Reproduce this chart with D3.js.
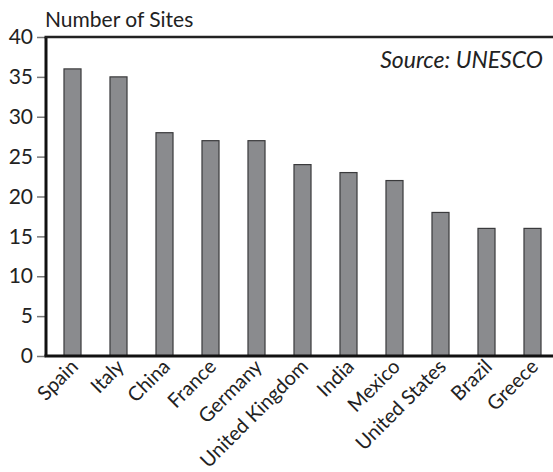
<!DOCTYPE html>
<html>
<head>
<meta charset="utf-8">
<script src="https://cdn.jsdelivr.net/npm/d3@7"></script>
<style>
  body { margin: 0; background: #fff; }
  text { font-family: Lato, "Noto Sans", sans-serif; fill: #222; }
</style>
</head>
<body>
<svg id="chart"></svg>
<script>
const countries = ["Spain", "Italy", "China", "France", "Germany", "United Kingdom",
    "India", "Mexico", "United States", "Brazil", "Greece"];
const sites = [36, 35, 28, 27, 27, 24, 23, 22, 18, 16, 16];
const yTicks = [0, 5, 10, 15, 20, 25, 30, 35, 40];

const width = 553;
const height = 472;
const plotLeft = 46, plotTop = 37, plotBottom = 356;

const svg = d3.select("#chart")
    .attr("width", width)
    .attr("height", height);

const x = d3.scaleBand()
    .domain(countries)
    .range([49.5, 555.5])
    .paddingInner(0.63)
    .paddingOuter(0.315);

const y = d3.scaleLinear()
    .domain([0, 40])
    .range([plotBottom, plotTop]);

// bars
svg.append("g")
    .selectAll("rect")
    .data(countries)
    .enter()
    .append("rect")
    .attr("x", d => x(d))
    .attr("y", (d, i) => y(sites[i]))
    .attr("width", x.bandwidth())
    .attr("height", (d, i) => plotBottom - y(sites[i]))
    .attr("fill", "#8a8b8e")
    .attr("stroke", "#3a3a3c")
    .attr("stroke-width", 1.2);

// y axis
const yAxis = svg.append("g")
    .attr("transform", `translate(${plotLeft},0)`)
    .call(d3.axisLeft(y).tickValues(yTicks).tickSize(9).tickPadding(4));
yAxis.select(".domain").remove();
yAxis.selectAll(".tick line").attr("stroke", "#777").attr("stroke-width", 1.5);
yAxis.selectAll(".tick text")
    .attr("font-size", "21px")
    .attr("fill", "#222");

// x axis labels
const xAxis = svg.append("g")
    .attr("transform", `translate(0,${plotBottom})`)
    .call(d3.axisBottom(x).tickSize(0).tickPadding(0));
xAxis.select(".domain").remove();
xAxis.selectAll(".tick text")
    .attr("font-size", "20px")
    .attr("fill", "#222")
    .attr("text-anchor", "end")
    .attr("transform", "translate(-3,2) rotate(-45)")
    .attr("dy", "0.7em");

// frame: left, bottom, top
svg.append("line")
    .attr("x1", plotLeft).attr("x2", plotLeft)
    .attr("y1", plotTop).attr("y2", plotBottom)
    .attr("stroke", "#111").attr("stroke-width", 3);
svg.append("line")
    .attr("x1", plotLeft - 1.5).attr("x2", width)
    .attr("y1", plotBottom).attr("y2", plotBottom)
    .attr("stroke", "#111").attr("stroke-width", 3);
svg.append("line")
    .attr("x1", plotLeft - 1.5).attr("x2", width)
    .attr("y1", plotTop).attr("y2", plotTop)
    .attr("stroke", "#222").attr("stroke-width", 2.5);

svg.append("text")
    .attr("x", 45)
    .attr("y", 27)
    .attr("font-size", "21px")
    .text("Number of Sites");

svg.append("text")
    .attr("x", 543)
    .attr("y", 68)
    .attr("text-anchor", "end")
    .attr("font-size", "23px")
    .attr("font-style", "italic")
    .text("Source: UNESCO");
</script>
</body>
</html>
